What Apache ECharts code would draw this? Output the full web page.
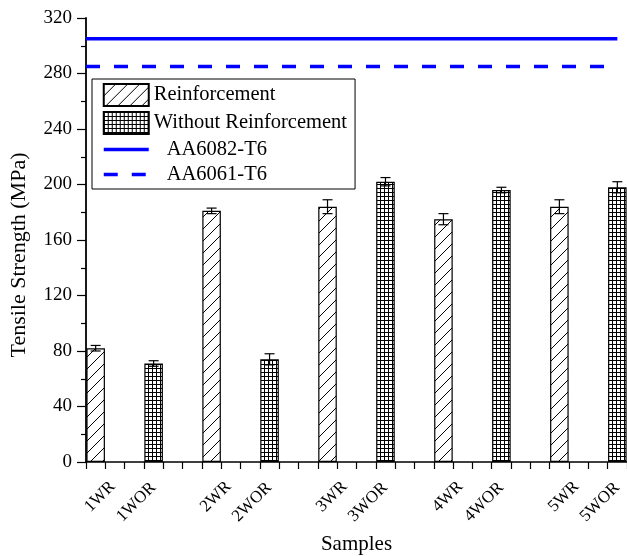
<!DOCTYPE html>
<html>
<head>
<meta charset="UTF-8">
<title>Tensile Strength</title>
<script src="https://cdn.jsdelivr.net/npm/echarts@6/dist/echarts.min.js"></script>
<style>
  html, body { margin: 0; padding: 0; background: #fff; }
  #chart { width: 627px; height: 556px; }
</style>
</head>
<body>
<div id="chart"></div>
<script>
// tick labels, in plot order
var samples = ['1WR', '1WOR', '2WR', '2WOR', '3WR', '3WOR', '4WR', '4WOR', '5WR', '5WOR'];
// tensile strength (MPa) and error, with / without reinforcement
var wrStrength = [82, 181, 184, 175, 184];
var wrError = [2, 2, 5, 4, 5];
var worStrength = [71, 74, 202, 196, 198];
var worError = [2, 4, 3, 2, 4];
// reference alloys (MPa)
var aa6082 = 305;
var aa6061 = 285;

var FONT = 'Liberation Serif';
var STEP = 3; // category slots between two samples

function makeHatch() {
    var c = document.createElement('canvas');
    c.width = 12; c.height = 12;
    var g = c.getContext('2d');
    g.fillStyle = '#fff';
    g.fillRect(0, 0, 12, 12);
    g.strokeStyle = '#000';
    g.lineWidth = 1;
    g.beginPath();
    g.moveTo(0, 12); g.lineTo(12, 0);
    g.moveTo(-2, 2); g.lineTo(2, -2);
    g.moveTo(10, 14); g.lineTo(14, 10);
    g.stroke();
    return c;
}
function makeGrid() {
    var c = document.createElement('canvas');
    c.width = 4; c.height = 4;
    var g = c.getContext('2d');
    g.fillStyle = '#fff';
    g.fillRect(0, 0, 4, 4);
    g.fillStyle = '#000';
    g.fillRect(0, 0, 4, 1);
    g.fillRect(0, 0, 1, 4);
    return c;
}
var hatch = { image: makeHatch(), repeat: 'repeat' };
var gridFill = { image: makeGrid(), repeat: 'repeat' };

// build the slotted category axis
var nSlots = (samples.length - 1) * STEP + 1;
var slotLabels = [];
for (var i = 0; i < nSlots; i++) slotLabels.push('');
samples.forEach(function (s, k) { slotLabels[k * STEP] = s; });

var wrData = [], worData = [], errData = [];
for (var i = 0; i < nSlots; i++) { wrData.push(null); worData.push(null); }
wrStrength.forEach(function (v, k) {
    var slot = (2 * k) * STEP;
    wrData[slot] = v;
    errData.push([slot, v, wrError[k]]);
});
worStrength.forEach(function (v, k) {
    var slot = (2 * k + 1) * STEP;
    worData[slot] = v;
    errData.push([slot, v, worError[k]]);
});

var chart = echarts.init(document.getElementById('chart'));

var labelFont = { fontFamily: FONT, fontSize: 17, color: '#000' };

var option = {
    backgroundColor: '#fff',
    animation: false,
    grid: { left: 86, right: 0, top: 18, bottom: 94, containLabel: false, outerBoundsMode: 'none' },
    legend: {
        orient: 'vertical',
        left: 92,
        top: 79,
        padding: [4, 8, 4, 10],
        itemGap: 4,
        itemWidth: 45,
        itemHeight: 22,
        borderColor: '#000',
        borderWidth: 1,
        textStyle: { fontFamily: FONT, fontSize: 20.5, color: '#000' },
        data: [
            { name: 'Reinforcement', icon: 'rect' },
            { name: 'Without Reinforcement', icon: 'rect' },
            {
                name: 'AA6082-T6',
                itemStyle: { opacity: 0 },
                lineStyle: { width: 3.5 },
                textStyle: { padding: [0, 0, 0, 13] }
            },
            {
                name: 'AA6061-T6',
                itemStyle: { opacity: 0 },
                lineStyle: { width: 3.5, type: [14, 14] },
                textStyle: { padding: [0, 0, 0, 13] }
            }
        ]
    },
    xAxis: [
        {
            type: 'category',
            data: slotLabels,
            boundaryGap: true,
            name: 'Samples',
            nameLocation: 'middle',
            nameGap: 72,
            nameTextStyle: { fontFamily: FONT, fontSize: 21, color: '#000' },
            axisLine: { lineStyle: { color: '#000', width: 1.5 } },
            axisTick: { show: true, interval: 0, length: 7, lineStyle: { color: '#000', width: 1.2 } },
            axisLabel: {
                interval: 0,
                rotate: 45,
                margin: 5,
                fontFamily: FONT,
                fontSize: 17,
                color: '#000',
                formatter: function (v) {
                    if (!v) return '';
                    return v.indexOf('WOR') > 0 ? '{wor|' + v + '}' : '{wr|' + v + '}';
                },
                rich: {
                    wr: Object.assign({ padding: [48, 0, 0, 0] }, labelFont),
                    wor: Object.assign({ padding: [25, 13, 0, 0] }, labelFont)
                }
            },
            splitLine: { show: false }
        },
        {
            type: 'value',
            min: 0,
            max: nSlots,
            show: false
        }
    ],
    yAxis: {
        type: 'value',
        min: 0,
        max: 320,
        interval: 40,
        name: 'Tensile Strength (MPa)',
        nameLocation: 'middle',
        nameGap: 56,
        nameTextStyle: { fontFamily: FONT, fontSize: 22, color: '#000', padding: [0, 30, 0, 0] },
        axisLine: { show: true, lineStyle: { color: '#000', width: 1.8 } },
        axisTick: { show: true, length: 9, lineStyle: { color: '#000', width: 1.2 } },
        minorTick: { show: true, splitNumber: 2, length: 5, lineStyle: { color: '#000', width: 1.2 } },
        axisLabel: { margin: 14, fontFamily: FONT, fontSize: 19, color: '#000' },
        splitLine: { show: false }
    },
    series: [
        {
            name: 'Reinforcement',
            type: 'bar',
            data: wrData,
            barGap: '-100%',
            barCategoryGap: '4%',
            itemStyle: { color: hatch, borderColor: '#000', borderWidth: 1.2 }
        },
        {
            name: 'Without Reinforcement',
            type: 'bar',
            data: worData,
            barGap: '-100%',
            barCategoryGap: '4%',
            itemStyle: { color: gridFill, borderColor: '#000', borderWidth: 1.2 }
        },
        {
            name: 'error',
            type: 'custom',
            data: errData,
            z: 5,
            renderItem: function (params, api) {
                var x = api.value(0), v = api.value(1), e = api.value(2);
                var top = api.coord([x, v + e]);
                var bot = api.coord([x, v - e]);
                var hw = 5;
                var st = { stroke: '#000', lineWidth: 1.2 };
                return {
                    type: 'group',
                    children: [
                        { type: 'line', shape: { x1: top[0], y1: top[1], x2: bot[0], y2: bot[1] }, style: st },
                        { type: 'line', shape: { x1: top[0] - hw, y1: top[1], x2: top[0] + hw, y2: top[1] }, style: st },
                        { type: 'line', shape: { x1: bot[0] - hw, y1: bot[1], x2: bot[0] + hw, y2: bot[1] }, style: st }
                    ]
                };
            }
        },
        {
            name: 'AA6082-T6',
            type: 'line',
            xAxisIndex: 1,
            symbol: 'none',
            lineStyle: { color: '#0000FF', width: 3.5 },
            itemStyle: { color: '#0000FF' },
            data: [[0, aa6082], [nSlots - 0.5, aa6082]]
        },
        {
            name: 'AA6061-T6',
            type: 'line',
            xAxisIndex: 1,
            symbol: 'none',
            lineStyle: { color: '#0000FF', width: 3.5, type: [14, 14] },
            itemStyle: { color: '#0000FF' },
            data: [[0, aa6061], [nSlots - 0.5, aa6061]]
        }
    ]
};

chart.setOption(option);
</script>
</body>
</html>
